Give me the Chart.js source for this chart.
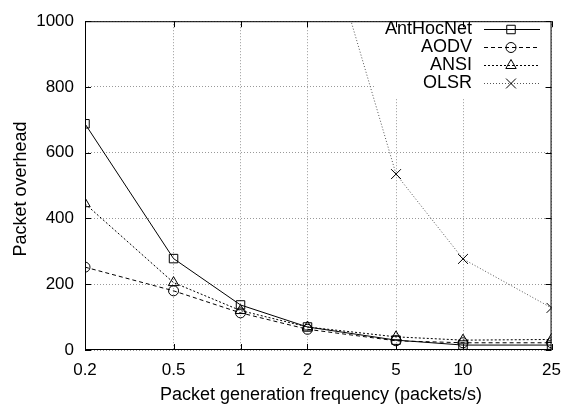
<!DOCTYPE html>
<html>
<head>
<meta charset="utf-8">
<script src="https://cdn.jsdelivr.net/npm/chart.js@4/dist/chart.umd.min.js"></script>
<style>
  html, body { margin: 0; padding: 0; background: #fff; }
  #wrap { width: 571px; height: 409px; }
</style>
</head>
<body>
<div id="wrap"><canvas id="overheadChart" width="571" height="409"></canvas></div>
<script>
// x values (packets/s) and tick labels
var freqs = [0.2, 0.5, 1, 2, 5, 10, 25];
var xTicks = [0.2, 0.5, 1, 2, 5, 10, 25];
var yTicks = [0, 200, 400, 600, 800, 1000];

// series values
var antHocNet = [688, 278, 137, 70, 30, 15, 15];
var aodv      = [252, 180, 113, 63, 28, 22, 22];
var ansi      = [445, 205, 120, 70, 40, 30, 32];
var olsr      = [null, null, null, 1450, 535, 277, 128];

var FONT = '"Liberation Sans", Arial, Helvetica, sans-serif';

function pts(arr) {
    var out = [];
    for (var i = 0; i < freqs.length; i++) {
        if (arr[i] !== null) out.push({ x: freqs[i], y: arr[i] });
    }
    return out;
}

var series = [
    { label: 'AntHocNet', data: antHocNet, dash: [],     style: 'rect',     radius: 6, color: '#000' },
    { label: 'AODV',      data: aodv,      dash: [4, 3], style: 'circle',   radius: 5, color: '#000' },
    { label: 'ANSI',      data: ansi,      dash: [2, 2], style: 'triangle', radius: 6, color: '#000' },
    { label: 'OLSR',      data: olsr,      dash: [1, 2], style: 'crossRot', radius: 7, color: '#555' }
];

// gnuplot-like frame, inward ticks, legend and axis titles
var framePlugin = {
    id: 'frame',
    beforeDatasetsDraw: function(chart) {
        var c = chart.ctx;
        // legend box hides the grid behind it
        c.save();
        c.fillStyle = '#fff';
        c.fillRect(376, chart.chartArea.top + 1, chart.chartArea.right - 377, 76);
        c.restore();
    },
    afterDraw: function(chart) {
        var c = chart.ctx, a = chart.chartArea;
        var xs = chart.scales.x, ys = chart.scales.y;
        c.save();
        c.strokeStyle = '#000';
        c.lineWidth = 1;
        c.setLineDash([]);
        c.strokeRect(a.left + 0.5, a.top + 0.5, a.right - a.left - 1, a.bottom - a.top - 1);
        c.beginPath();
        xTicks.forEach(function(v) {
            var px = Math.round(xs.getPixelForValue(v)) + 0.5;
            c.moveTo(px, a.bottom); c.lineTo(px, a.bottom - 6);
            c.moveTo(px, a.top); c.lineTo(px, a.top + 6);
        });
        yTicks.forEach(function(v) {
            var py = Math.round(ys.getPixelForValue(v)) + 0.5;
            c.moveTo(a.left, py); c.lineTo(a.left + 6, py);
            c.moveTo(a.right, py); c.lineTo(a.right - 6, py);
        });
        c.stroke();

        // legend
        c.font = '18px ' + FONT;
        c.textAlign = 'right';
        c.textBaseline = 'middle';
        series.forEach(function(s, i) {
            var y = 29 + i * 18;
            c.fillStyle = '#000';
            c.fillText(s.label, 472, y);
            c.strokeStyle = s.color;
            c.setLineDash(s.dash);
            c.beginPath();
            c.moveTo(484, y + 0.5); c.lineTo(540, y + 0.5);
            c.stroke();
            c.setLineDash([]);
            c.strokeStyle = '#000';
            c.fillStyle = 'rgba(0,0,0,0)';
            Chart.helpers.drawPoint(c, { pointStyle: s.style, radius: s.radius, borderWidth: 1 }, 511, y + 0.5);
        });

        // axis titles
        c.fillStyle = '#000';
        c.font = '18px ' + FONT;
        c.textAlign = 'center';
        c.textBaseline = 'middle';
        c.fillText('Packet generation frequency (packets/s)', 321, 395);
        c.translate(21, 189);
        c.rotate(-Math.PI / 2);
        c.fillText('Packet overhead', 0, 0);
        c.restore();
    }
};

var gridOpts = { color: '#999', drawTicks: false };
var borderOpts = { display: false, dash: [1, 2] };

var ctx = document.getElementById('overheadChart').getContext('2d');
var chart = new Chart(ctx, {
    type: 'line',
    data: {
        datasets: series.map(function(s) {
            return {
                label: s.label,
                data: pts(s.data),
                borderColor: s.color,
                borderWidth: 1,
                borderDash: s.dash,
                pointStyle: s.style,
                pointRadius: s.radius,
                pointBorderColor: '#000',
                pointBackgroundColor: 'rgba(0,0,0,0)',
                pointBorderWidth: 1,
                fill: false,
                tension: 0
            };
        })
    },
    options: {
        responsive: false,
        animation: false,
        events: [],
        layout: { padding: { top: 14, right: 12, left: 0, bottom: 0 } },
        plugins: {
            legend: { display: false },
            tooltip: { enabled: false }
        },
        scales: {
            x: {
                type: 'logarithmic',
                min: 0.2,
                max: 25,
                afterBuildTicks: function(scale) {
                    scale.ticks = xTicks.map(function(v) { return { value: v }; });
                },
                afterFit: function(scale) { scale.height = 59; },
                ticks: {
                    autoSkip: false,
                    maxRotation: 0,
                    padding: 10,
                    color: '#000',
                    font: { family: FONT, size: 17 },
                    callback: function(v) { return String(v); }
                },
                grid: gridOpts,
                border: borderOpts
            },
            y: {
                min: 0,
                max: 1000,
                afterBuildTicks: function(scale) {
                    scale.ticks = yTicks.map(function(v) { return { value: v }; });
                },
                afterFit: function(scale) { scale.width = 85; },
                ticks: {
                    padding: 11,
                    color: '#000',
                    font: { family: FONT, size: 17 },
                    callback: function(v) { return String(v); }
                },
                grid: gridOpts,
                border: borderOpts
            }
        }
    },
    plugins: [framePlugin]
});
</script>
</body>
</html>
